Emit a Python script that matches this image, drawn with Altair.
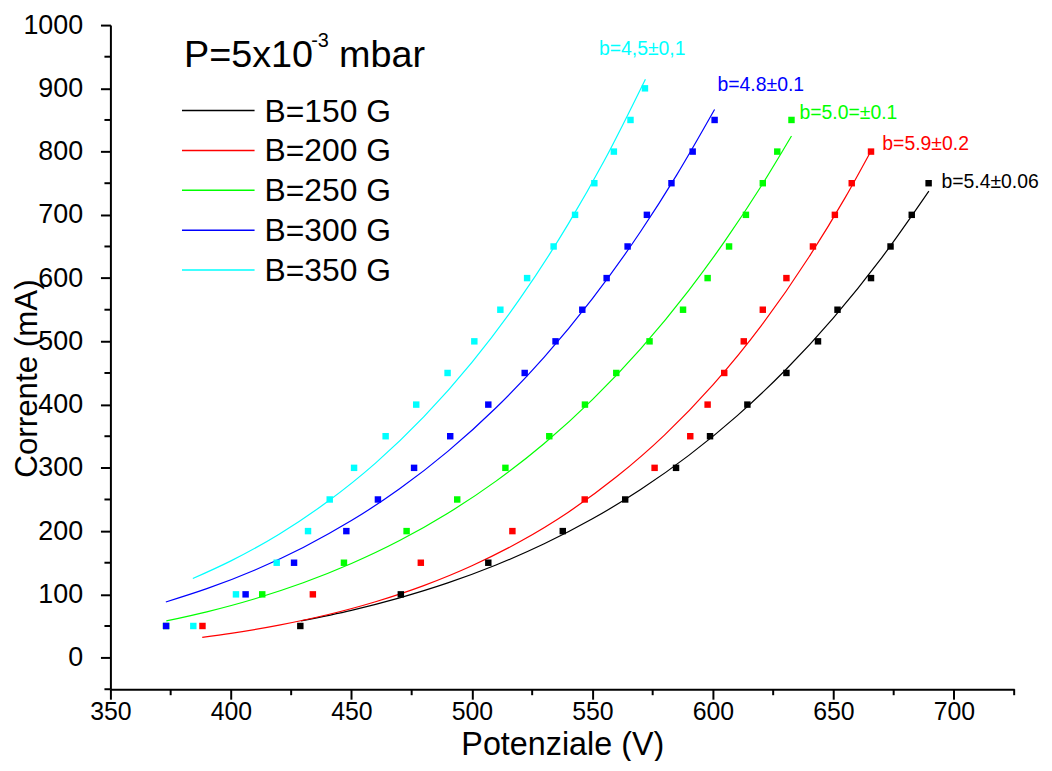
import altair as alt
import pandas as pd

# ---------------- data ----------------
SERIES = ["B=150 G", "B=200 G", "B=250 G", "B=300 G", "B=350 G"]
COLORS = ["#000000", "#ff0000", "#00ff00", "#0000ff", "#00ffff"]

# measured points (Potenziale V, Corrente mA)
V150 = [428.8, 470.5, 506.8, 537.7, 563.6, 584.7, 598.8, 614.3, 630.5, 643.6, 651.7, 665.6, 673.7, 682.5, 689.5]
I150 = [50, 100, 150, 200, 250, 300, 350, 400, 450, 500, 550, 600, 650, 700, 750]
V200 = [388.2, 434.0, 478.8, 516.8, 546.8, 575.8, 590.6, 597.8, 604.7, 612.8, 620.7, 630.5, 641.5, 650.6, 657.6, 665.6]
I200 = [50, 100, 150, 200, 250, 300, 350, 400, 450, 500, 550, 600, 650, 700, 750, 800]
V250 = [373.1, 413.0, 446.9, 472.9, 493.9, 513.9, 532.1, 546.9, 559.9, 573.7, 587.6, 597.8, 606.7, 613.7, 620.7, 626.7, 632.6]
I250 = [50, 100, 150, 200, 250, 300, 350, 400, 450, 500, 550, 600, 650, 700, 750, 800, 850]
V300 = [373.1, 406.1, 426.2, 447.9, 461.0, 476.0, 491.0, 506.8, 521.9, 534.7, 545.8, 555.9, 564.6, 572.6, 582.8, 591.6, 600.7]
I300 = [50, 100, 150, 200, 250, 300, 350, 400, 450, 500, 550, 600, 650, 700, 750, 800, 850]
V350 = [384.4, 402.1, 419.0, 432.0, 441.0, 451.1, 464.2, 476.9, 489.9, 501.0, 511.8, 522.9, 533.9, 542.8, 550.8, 558.9, 565.8, 571.8]
I350 = [50, 100, 150, 200, 250, 300, 350, 400, 450, 500, 550, 600, 650, 700, 750, 800, 850, 900]

# fitted curves as drawn
FV150 = [429.1, 450, 470, 490, 510, 530, 550, 570, 590, 610, 630, 650, 670, 689.6]
FI150 = [58, 74.8, 94.5, 118.1, 146.4, 179.9, 219.4, 265.7, 319.7, 382.2, 454.3, 537.2, 632.0, 737.5]
FV200 = [388.1, 400, 420, 440, 460, 480, 500, 520, 540, 560, 580, 600, 620, 640, 655, 665.6]
FI200 = [32, 38.3, 51.3, 67.7, 88.3, 113.8, 145.2, 183.5, 229.9, 285.8, 352.2, 431.2, 524.4, 634.1, 728.0, 801.0]
FV250 = [373.2, 390, 410, 430, 450, 470, 490, 510, 530, 550, 570, 590, 605, 620, 632.6]
FI250 = [58, 72.4, 93.1, 118.3, 148.7, 185.0, 228.2, 279.0, 338.6, 407.9, 488.2, 580.7, 658.8, 745.2, 824.6]
FV300 = [373.0, 390, 410, 430, 450, 470, 490, 510, 530, 550, 570, 585, 600.7]
FI300 = [88, 109.0, 138.6, 174.2, 216.6, 266.9, 326.0, 395.0, 475.1, 567.6, 673.6, 763.2, 866.6]
FV350 = [384.2, 400, 420, 440, 460, 480, 500, 520, 540, 555, 572]
FI350 = [125, 152.9, 195.1, 246.3, 307.5, 380.5, 466.7, 567.8, 685.7, 786.2, 914.4]

FIT_TEXT = ["b=5.4\u00b10.06", "b=5.9\u00b10.2", "b=5.0=\u00b10.1", "b=4.8\u00b10.1", "b=4,5\u00b10,1"]
FIT_TEXT_V = [694.8, 670.3, 635.9, 601.9, 552.7]
FIT_TEXT_I = [743.1, 802.4, 852.2, 895.1, 952.8]

X_MAJOR = [350, 400, 450, 500, 550, 600, 650, 700]
X_MINOR = [375, 425, 475, 525, 575, 625, 675, 725]
Y_MAJOR = [0, 100, 200, 300, 400, 500, 600, 700, 800, 900, 1000]
Y_MINOR = [-50, 50, 150, 250, 350, 450, 550, 650, 750, 850, 950]

# ---------------- tables ----------------
pts_V = [V150, V200, V250, V300, V350]
pts_I = [I150, I200, I250, I300, I350]
fit_V = [FV150, FV200, FV250, FV300, FV350]
fit_I = [FI150, FI200, FI250, FI300, FI350]

points = pd.concat(
    [pd.DataFrame({"V": v, "I": i, "series": s}) for v, i, s in zip(pts_V, pts_I, SERIES)],
    ignore_index=True)
fits = pd.concat(
    [pd.DataFrame({"V": v, "I": i, "series": s}) for v, i, s in zip(fit_V, fit_I, SERIES)],
    ignore_index=True)
notes = pd.DataFrame({"V": FIT_TEXT_V, "I": FIT_TEXT_I, "text": FIT_TEXT, "series": SERIES})

W, H = 909, 668
SANS = "Liberation Sans, Arial, Helvetica, sans-serif"

xscale = alt.Scale(domain=[350, 725], nice=False, zero=False)
yscale = alt.Scale(domain=[-50, 1000], nice=False, zero=False)
cscale = alt.Scale(domain=SERIES, range=COLORS)

xaxis = alt.Axis(values=X_MAJOR, format="d", grid=False, title="Potenziale (V)",
                 labelFont=SANS, labelFontSize=25, labelColor="black", labelPadding=0,
                 labelFlush=False, labelOverlap=False,
                 tickSize=10, tickWidth=2, tickColor="black",
                 domainWidth=2, domainColor="black",
                 titleFont=SANS, titleFontSize=32.5, titleFontWeight="normal", titleColor="black",
                 titleBaseline="alphabetic", titleY=66)
yaxis = alt.Axis(values=Y_MAJOR, format="d", grid=False, title="Corrente (mA)",
                 labelFont=SANS, labelFontSize=27, labelColor="black", labelPadding=18,
                 labelFlush=False, labelOverlap=False,
                 tickSize=10, tickWidth=2, tickColor="black",
                 domainWidth=2, domainColor="black",
                 titleFont=SANS, titleFontSize=31.5, titleFontWeight="normal", titleColor="black",
                 titleAngle=270, titleBaseline="bottom", titleAlign="center",
                 titleX=-67, titleY=355)

X = alt.X("V:Q", scale=xscale, axis=xaxis)
Y = alt.Y("I:Q", scale=yscale, axis=yaxis)
C = alt.Color("series:N", scale=cscale, legend=None)

lines = alt.Chart(fits).mark_line(strokeWidth=1.2, interpolate="monotone").encode(
    x=X, y=Y, color=C, detail="series:N")
dots = alt.Chart(points).mark_square(size=42, opacity=1, strokeWidth=0).encode(
    x=X, y=Y, color=C)
labels = alt.Chart(notes).mark_text(align="left", baseline="alphabetic", font=SANS,
                                    fontSize=19.5).encode(x=X, y=Y, text="text:N", color=C)

xminor = alt.Chart(pd.DataFrame({"V": X_MINOR})).mark_rule(color="black", strokeWidth=2).encode(
    x=X, y=alt.value(H), y2=alt.value(H + 6))
yminor = alt.Chart(pd.DataFrame({"I": Y_MINOR})).mark_rule(color="black", strokeWidth=2).encode(
    y=Y, x=alt.value(-6), x2=alt.value(0))

# legend block (drawn as text and short lines)
leg_layers = [
    alt.Chart(pd.DataFrame({"t": ["P=5x10"]})).mark_text(
        align="left", baseline="alphabetic", font=SANS, fontSize=38, color="black").encode(
        text="t:N", x=alt.value(74), y=alt.value(42)),
    alt.Chart(pd.DataFrame({"t": ["-3"]})).mark_text(
        align="left", baseline="alphabetic", font=SANS, fontSize=20, color="black").encode(
        text="t:N", x=alt.value(202), y=alt.value(22)),
    alt.Chart(pd.DataFrame({"t": ["mbar"]})).mark_text(
        align="left", baseline="alphabetic", font=SANS, fontSize=38, color="black").encode(
        text="t:N", x=alt.value(230), y=alt.value(42)),
]
for k, (s, col) in enumerate(zip(SERIES, COLORS)):
    ry = 86 + 40.1 * k
    leg_layers.append(
        alt.Chart(pd.DataFrame({"s": [s]})).mark_rule(color=col, strokeWidth=1.5).encode(
            x=alt.value(72), x2=alt.value(145), y=alt.value(ry)))
    leg_layers.append(
        alt.Chart(pd.DataFrame({"s": [s]})).mark_text(
            align="left", baseline="middle", font=SANS, fontSize=32, color="black").encode(
            text="s:N", x=alt.value(155), y=alt.value(ry + 1)))

chart = alt.layer(lines, dots, labels, xminor, yminor, *leg_layers).properties(
    width=W, height=H,
    padding={"left": 103, "top": 15, "right": 30, "bottom": 70},
    autosize=alt.AutoSizeParams(type="none"),
    background="white",
).configure_view(stroke=None)

chart.save("out.html", embed_options={"renderer": "svg", "actions": False})
